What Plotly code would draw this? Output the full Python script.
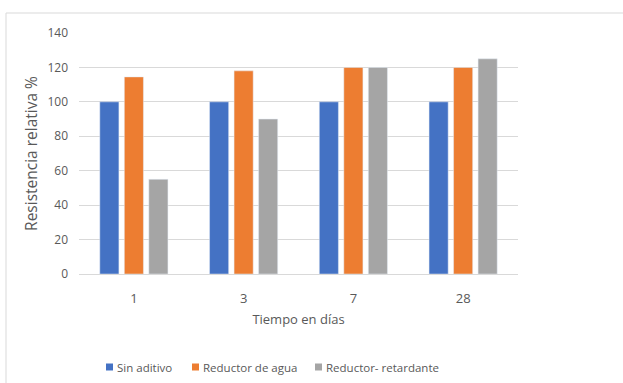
import plotly.graph_objects as go

categories = ["1", "3", "7", "28"]
sin_aditivo = [100, 100, 100, 100]
reductor_agua = [114.5, 118, 120, 120]
reductor_retardante = [55, 90, 120, 125]
y_ticks = [0, 20, 40, 60, 80, 100, 120, 140]

series_names = ["Sin aditivo", "Reductor de agua", "Reductor- retardante"]
series_colors = ["#4472C4", "#ED7D31", "#A5A5A5"]

FONT = "Open Sans"
TXT = "#595959"

# plot area in pixels: x 79..518, y 33..274
L, R, T, B = 79, 518, 33, 274
W, H = R - L, B - T


def px_x(px):
    return (px - L) / W


def px_y(py):
    return (B - py) / H


fig = go.Figure()
for name, vals, col in zip(series_names, [sin_aditivo, reductor_agua, reductor_retardante], series_colors):
    fig.add_bar(name=name, x=categories, y=vals, marker_color=col, showlegend=False)

# legend drawn below the chart: small squares with labels
legend_sq_x = [106, 192, 315]
legend_y = 367
shapes = [dict(type="rect", xref="paper", yref="paper",
               x0=px_x(6), x1=px_x(640), y0=px_y(400), y1=px_y(13),
               line=dict(color="#d9d9d9", width=1), fillcolor="rgba(0,0,0,0)", layer="below")]
annotations = []
for sx, name, col in zip(legend_sq_x, series_names, series_colors):
    shapes.append(dict(type="rect", xref="paper", yref="paper",
                       x0=px_x(sx), x1=px_x(sx + 7), y0=px_y(legend_y + 3.5), y1=px_y(legend_y - 3.5),
                       line=dict(width=0), fillcolor=col))
    annotations.append(dict(text=name, xref="paper", yref="paper", x=px_x(sx + 9), y=px_y(legend_y),
                            xanchor="left", yanchor="middle", showarrow=False,
                            font=dict(family=FONT, size=11.5, color=TXT)))

fig.update_layout(
    width=623, height=383,
    margin=dict(l=L, r=623 - R, t=T, b=383 - B, autoexpand=False),
    paper_bgcolor="white", plot_bgcolor="white",
    barmode="group", bargap=0.33, bargroupgap=0.22,
    font=dict(family=FONT, size=12, color=TXT),
    showlegend=False,
    shapes=shapes,
    annotations=annotations,
)
fig.update_xaxes(type="category", showgrid=False, showline=True, linecolor="#d9d9d9",
                 ticks="", ticklabelstandoff=12, tickfont=dict(size=13, color=TXT), automargin=False,
                 title=dict(text="Tiempo en días", font=dict(size=13, color=TXT), standoff=9))
fig.update_yaxes(range=[0, 140], tickvals=y_ticks, showgrid=True, gridcolor="#d9d9d9",
                 gridwidth=1, zeroline=False, showline=False, ticks="", automargin=False,
                 ticklabelstandoff=10, tickfont=dict(size=12, color=TXT),
                 title=dict(text="Resistencia relativa %", font=dict(size=15.5, color=TXT), standoff=5))

fig.write_html("out.html")
